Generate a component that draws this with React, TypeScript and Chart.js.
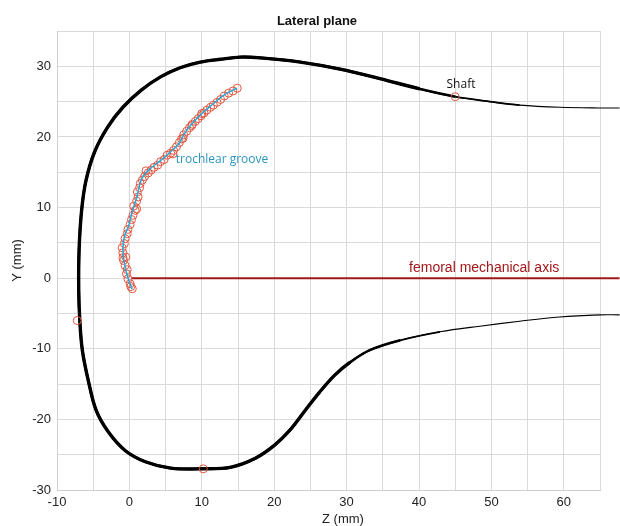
import React, { useEffect, useRef } from "react";
import { Chart, registerables } from "chart.js";

Chart.register(...registerables);

// Outer femoral contour (Z, Y) from the upper shaft tail, round the condyles, to the lower tail
const contourZ = [67.7, 65, 59.4, 53.9, 49.8, 45, 40.1, 34.6, 29.1, 23.6, 18.1, 15.3, 12.6, 9.8, 7.0, 4.3, 1.6, -0.9, -3.0, -4.8, -6.0, -6.6, -6.95, -7.0, -6.85, -6.5, -5.7, -4.6, -2.9, -0.6, 2.2, 5.7, 10.2, 13.9, 17.4, 20.1, 22.2, 24.3, 26.3, 28.4, 30.5, 33.2, 37.4, 42.9, 48.4, 53.9, 59.4, 65, 67.7];
const contourY = [24.1, 24.1, 24.2, 24.5, 25.0, 25.7, 26.8, 28.25, 29.6, 30.6, 31.2, 31.3, 31.0, 30.6, 29.8, 28.5, 26.6, 24.2, 21.4, 17.9, 13.8, 9.6, 4.0, -1.7, -6.0, -10.2, -14.4, -18.7, -21.8, -24.4, -26.0, -26.9, -27.0, -26.8, -25.5, -23.6, -21.5, -18.7, -16.1, -13.7, -11.9, -10.2, -8.8, -7.6, -6.8, -6.1, -5.5, -5.2, -5.2];

// Landmarks on the contour
const landmarkZ = [45, -7.2, 10.2];
const landmarkY = [25.7, -6.0, -27.0];

// Trochlear groove measured points
const grooveZ = [0.4, 0.2, 0.1, -0.2, -0.4, -0.3, -0.6, -0.8, -0.9, -0.5, -0.9, -1.0, -0.7, -0.6, -0.3, -0.2, 0.1, 0.3, 0.5, 0.8, 1.0, 0.6, 1.0, 1.2, 1.1, 1.4, 1.5, 1.8, 2.1, 2.3, 2.6, 3.0, 3.4, 3.9, 4.3, 4.8, 5.2, 5.7, 6.0, 6.1, 6.5, 6.9, 7.2, 7.4, 7.5, 7.9, 8.3, 8.6, 8.7, 9.1, 9.5, 9.9, 10.0, 10.3, 10.7, 11.2, 11.6, 12.1, 12.6, 13.1, 13.7, 14.3, 14.9];
const grooveY = [-1.5, -1.2, -0.8, -0.1, 0.6, 1.2, 1.8, 2.5, 2.9, 3.0, 3.6, 4.3, 4.9, 5.6, 6.3, 6.9, 7.6, 8.3, 8.9, 9.6, 9.8, 10.2, 10.9, 11.5, 12.2, 12.8, 13.4, 13.9, 14.4, 15.2, 14.9, 15.3, 15.7, 16.0, 16.5, 16.8, 17.4, 17.7, 17.6, 18.1, 18.6, 19.2, 19.7, 19.8, 20.3, 20.8, 21.3, 21.6, 21.8, 22.2, 22.6, 23.0, 23.3, 23.4, 23.8, 24.2, 24.5, 24.9, 25.3, 25.8, 26.2, 26.5, 26.9];

// Fitted groove line
const grooveLineZ = [0.35, -0.26, -0.68, -0.9, -0.68, -0.12, 0.35, 0.8, 1.17, 1.5, 1.95, 3.1, 4.25, 5.6, 6.8, 7.7, 8.85, 10.2, 11.6, 13.0, 14.85];
const grooveLineY = [-1.57, 0.23, 2.1, 4.0, 5.9, 7.35, 9.26, 10.7, 12.1, 13.5, 14.5, 15.7, 16.6, 17.8, 19.0, 20.65, 22.1, 23.5, 24.7, 25.9, 26.9];

// Femoral mechanical axis
const axisZ = [0.3, 67.7];
const axisY = [0, 0];

const xTicks = [-10, 0, 10, 20, 30, 40, 50, 60];
const yTicks = [-30, -20, -10, 0, 10, 20, 30];

const pts = (xs: number[], ys: number[]) => xs.map((x, i) => ({ x, y: ys[i] }));

const textPlugin = {
  id: "freeText",
  afterDraw(chart: any) {
    const { ctx, scales } = chart;
    const xs = scales.x;
    const ys = scales.y;
    ctx.save();
    ctx.textBaseline = "middle";
    ctx.textAlign = "center";
    ctx.fillStyle = "#111";
    ctx.font = "bold 13px 'Liberation Sans', Arial, sans-serif";
    ctx.fillText("Lateral plane", 317, 21);
    ctx.fillStyle = "#222";
    ctx.font = "13px 'Liberation Sans', Arial, sans-serif";
    ctx.fillText("Z (mm)", 343, 519);
    ctx.fillStyle = "#a3181b";
    ctx.font = "14px 'Liberation Sans', Arial, sans-serif";
    ctx.fillText("femoral mechanical axis", xs.getPixelForValue(49), ys.getPixelForValue(1.45));
    ctx.fillStyle = "#111";
    ctx.font = "12px 'Open Sans', 'Noto Sans', sans-serif";
    ctx.fillText("Shaft", xs.getPixelForValue(45.8), ys.getPixelForValue(27.4));
    ctx.textAlign = "left";
    ctx.fillStyle = "#2a95bd";
    ctx.fillText("trochlear groove", xs.getPixelForValue(6.4), ys.getPixelForValue(16.8));
    ctx.restore();
  },
};

// Layered strokes emulate the contour's taper towards the shaft tails
const layerColor = (topLimit: number, bottomLimit: number) => (c: any) => {
  const z = (c.p0.parsed.x + c.p1.parsed.x) / 2;
  const y = c.p0.parsed.y;
  if (y > 10 && z > topLimit) return "rgba(0,0,0,0)";
  if (y < -2 && z > bottomLimit) return "rgba(0,0,0,0)";
  return "#000";
};

const contourLayer = (width: number, topLimit: number, bottomLimit: number, order: number) => ({
  label: "contour " + width,
  data: pts(contourZ, contourY),
  showLine: true,
  borderColor: "#000",
  borderWidth: width,
  pointRadius: 0,
  tension: 0.35,
  segment: { borderColor: layerColor(topLimit, bottomLimit) },
  order,
  clip: false,
});

export default function App() {
  const ref = useRef<HTMLCanvasElement>(null);
  useEffect(() => {
    document.body.style.margin = "0";
    if (!ref.current) return;
    const tickFont = { family: "'Liberation Sans', Arial, sans-serif", size: 13 };
    const chart = new Chart(ref.current, {
      type: "scatter",
      data: {
        datasets: [
          {
            label: "groove line",
            data: pts(grooveLineZ, grooveLineY),
            showLine: true,
            borderColor: "#22a8d8",
            borderWidth: 1.5,
            pointRadius: 0,
            tension: 0.4,
            order: 0,
          },
          {
            label: "groove points",
            data: pts(grooveZ, grooveY),
            showLine: false,
            pointRadius: 4,
            pointBorderWidth: 1,
            pointBorderColor: "#e3553e",
            pointBackgroundColor: "rgba(0,0,0,0)",
            order: 1,
          },
          {
            label: "landmarks",
            data: pts(landmarkZ, landmarkY),
            showLine: false,
            pointRadius: 4,
            pointBorderWidth: 1,
            pointBorderColor: "#e3553e",
            pointBackgroundColor: "rgba(0,0,0,0)",
            order: 0,
            clip: false,
          },
          contourLayer(3.4, 42, 30, 2),
          contourLayer(2.6, 47, 37, 3),
          contourLayer(1.8, 53, 45, 4),
          contourLayer(1.1, 99, 99, 5),
          {
            label: "mechanical axis",
            data: pts(axisZ, axisY),
            showLine: true,
            borderColor: "#9e1a1a",
            borderWidth: 2,
            pointRadius: 0,
            order: 6,
            clip: false,
          },
        ],
      },
      options: {
        responsive: false,
        animation: false,
        layout: { padding: { top: 31, right: 20, left: 0, bottom: 0 } },
        plugins: { legend: { display: false }, title: { display: false }, tooltip: { enabled: false } },
        scales: {
          x: {
            type: "linear",
            min: -10,
            max: 65,
            afterFit: (s: any) => { s.height = 36; },
            afterBuildTicks: (s: any) => {
              const t = [];
              for (let v = -10; v <= 65; v += 5) t.push({ value: v });
              s.ticks = t;
            },
            ticks: {
              autoSkip: false,
              maxRotation: 0,
              padding: 5,
              color: "#222",
              font: tickFont,
              callback: (v: any) => (xTicks.includes(v) ? String(v) : ""),
            },
            grid: { color: "#dadada", lineWidth: 1, drawTicks: false },
            border: { color: "#cfcfcf" },
          },
          y: {
            type: "linear",
            min: -30,
            max: 35,
            afterFit: (s: any) => { s.width = 57; },
            afterBuildTicks: (s: any) => {
              const t = [];
              for (let v = -30; v <= 35; v += 5) t.push({ value: v });
              s.ticks = t;
            },
            ticks: {
              autoSkip: false,
              padding: 6,
              color: "#222",
              font: tickFont,
              callback: (v: any) => (yTicks.includes(v) ? String(v) : ""),
            },
            grid: { color: "#dadada", lineWidth: 1, drawTicks: false },
            border: { color: "#cfcfcf" },
            title: {
              display: true,
              text: "Y (mm)",
              color: "#222",
              font: { family: "'Liberation Sans', Arial, sans-serif", size: 13 },
              padding: { top: 10, bottom: 0 },
            },
          },
        },
      },
      plugins: [textPlugin],
    });
    return () => chart.destroy();
  }, []);
  return <canvas ref={ref} width={620} height={526} style={{ display: "block" }} />;
}
